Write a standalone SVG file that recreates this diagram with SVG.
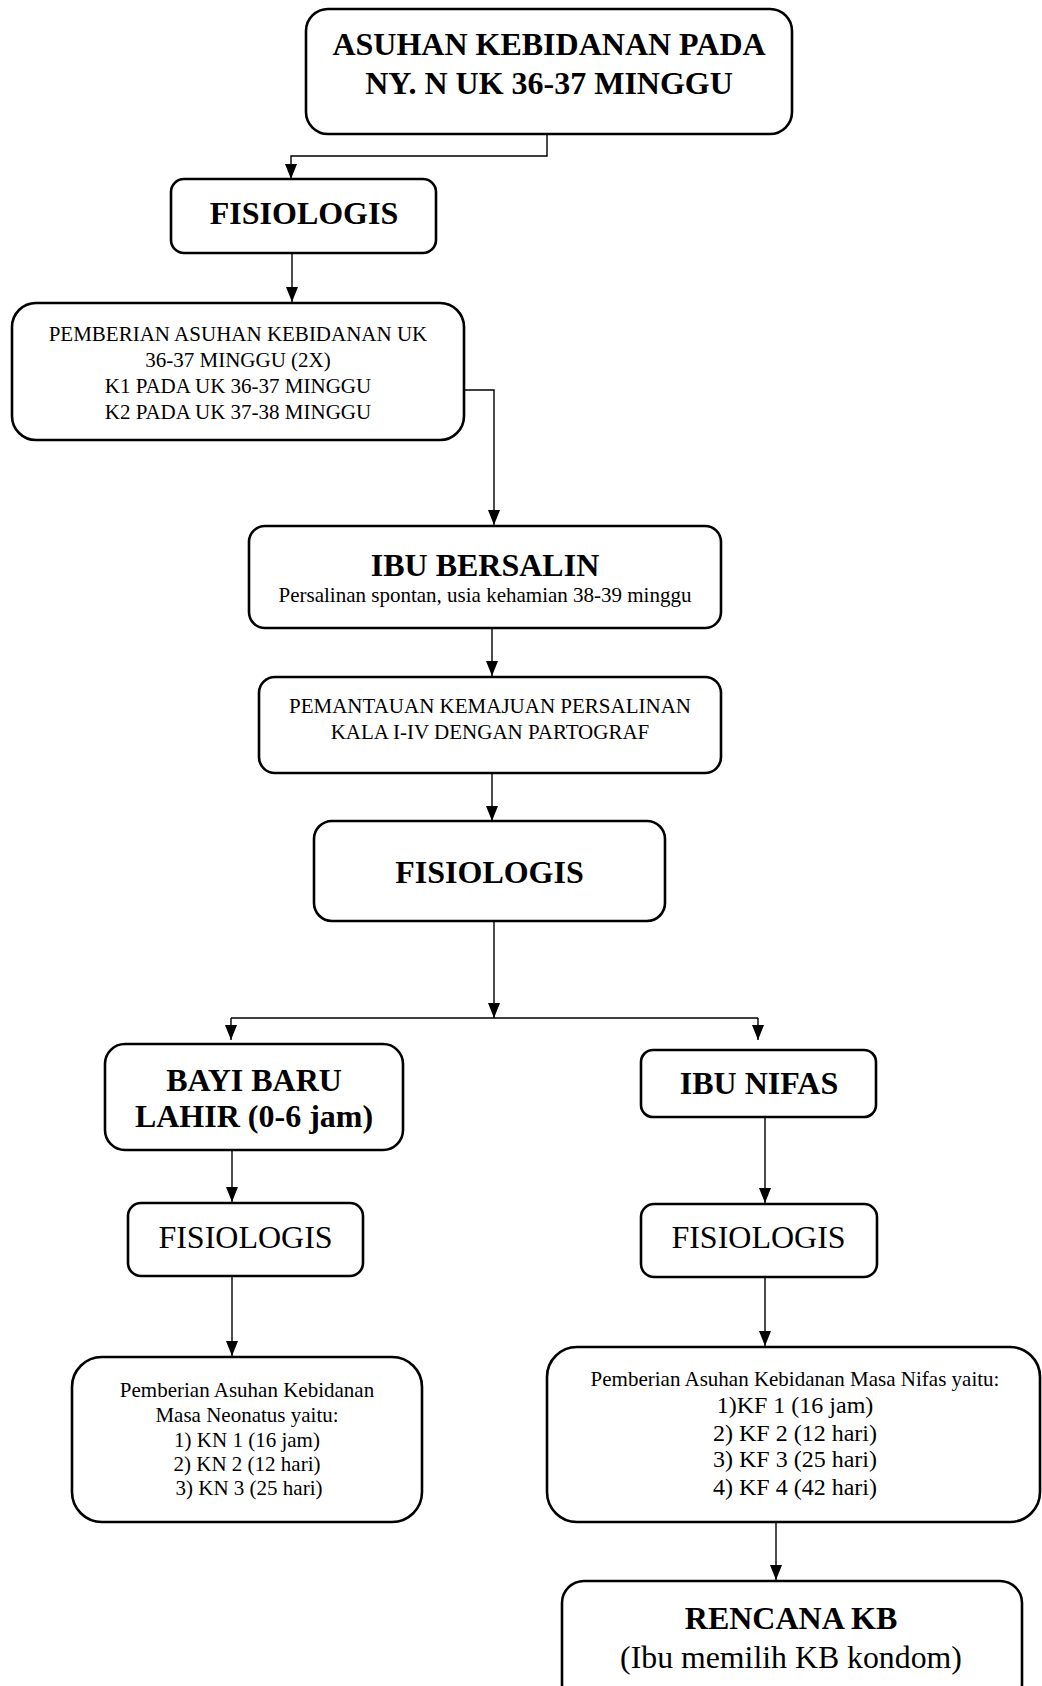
<svg xmlns="http://www.w3.org/2000/svg" width="1042" height="1686" viewBox="0 0 1042 1686">
<style>
.box{fill:#fff;stroke:#000;stroke-width:2.6}
.con{fill:none;stroke:#000;stroke-width:1.4}
text{font-family:"Liberation Serif","Times New Roman",serif;fill:#000;text-anchor:middle}
.b32{font-size:32px;font-weight:bold}
.r32{font-size:32px}
.r21{font-size:21px}
.r24{font-size:24px}
.r30{font-size:31.8px}
</style>
<defs>
<marker id="arr" markerUnits="userSpaceOnUse" markerWidth="16" markerHeight="12" refX="15" refY="6" orient="auto">
<path d="M0,0 L15,6 L0,12 z" fill="#000"/>
</marker>
</defs>
<rect width="1042" height="1686" fill="#fff"/>
<g id="connectors">
<path class="con" d="M547,134 V156 H291 V179" marker-end="url(#arr)"/>
<path class="con" d="M292,253 V302" marker-end="url(#arr)"/>
<path class="con" d="M464,390 H494 V525" marker-end="url(#arr)"/>
<path class="con" d="M492,628 V676" marker-end="url(#arr)"/>
<path class="con" d="M492,773 V821" marker-end="url(#arr)"/>
<path class="con" d="M494,921 V1018" marker-end="url(#arr)"/>
<path class="con" d="M231,1018 H758"/>
<path class="con" d="M231,1018 V1040" marker-end="url(#arr)"/>
<path class="con" d="M758,1018 V1040" marker-end="url(#arr)"/>
<path class="con" d="M232,1150 V1202" marker-end="url(#arr)"/>
<path class="con" d="M232,1276 V1356" marker-end="url(#arr)"/>
<path class="con" d="M765,1117 V1203" marker-end="url(#arr)"/>
<path class="con" d="M765,1277 V1346" marker-end="url(#arr)"/>
<path class="con" d="M776,1522 V1580" marker-end="url(#arr)"/>
</g>
<g id="n-asuhan">
<rect class="box" x="306" y="9" width="486" height="125" rx="22"/>
<text class="b32" x="549" y="55">ASUHAN KEBIDANAN PADA</text>
<text class="b32" x="549" y="94">NY. N UK 36-37 MINGGU</text>
</g>
<g id="n-fisiologis1">
<rect class="box" x="171" y="179" width="265" height="74" rx="13"/>
<text class="b32" x="304" y="224">FISIOLOGIS</text>
</g>
<g id="n-pemberian-uk">
<rect class="box" x="12" y="303" width="452" height="137" rx="24"/>
<text class="r21" x="238" y="341">PEMBERIAN ASUHAN KEBIDANAN UK</text>
<text class="r21" x="238" y="367">36-37 MINGGU (2X)</text>
<text class="r21" x="238" y="393">K1 PADA UK 36-37 MINGGU</text>
<text class="r21" x="238" y="419">K2 PADA UK 37-38 MINGGU</text>
</g>
<g id="n-ibu-bersalin">
<rect class="box" x="249" y="526" width="472" height="102" rx="16"/>
<text class="b32" x="485" y="576">IBU BERSALIN</text>
<text class="r21" x="485" y="602">Persalinan spontan, usia kehamian 38-39 minggu</text>
</g>
<g id="n-pemantauan">
<rect class="box" x="259" y="677" width="462" height="96" rx="16"/>
<text class="r21" x="490" y="713">PEMANTAUAN KEMAJUAN PERSALINAN</text>
<text class="r21" x="490" y="739">KALA I-IV DENGAN PARTOGRAF</text>
</g>
<g id="n-fisiologis2">
<rect class="box" x="314" y="821" width="351" height="100" rx="18"/>
<text class="b32" x="489.5" y="883">FISIOLOGIS</text>
</g>
<g id="n-bayi">
<rect class="box" x="105" y="1044" width="298" height="106" rx="20"/>
<text class="b32" x="254" y="1091">BAYI BARU</text>
<text class="b32" x="254" y="1127">LAHIR (0-6 jam)</text>
</g>
<g id="n-fisiologis-bayi">
<rect class="box" x="128" y="1203" width="235" height="73" rx="13"/>
<text class="r32" x="245.5" y="1248">FISIOLOGIS</text>
</g>
<g id="n-neonatus">
<rect class="box" x="72" y="1357" width="350" height="165" rx="30"/>
<text class="r21" x="247" y="1397">Pemberian Asuhan Kebidanan</text>
<text class="r21" x="247" y="1422">Masa Neonatus yaitu:</text>
<text class="r21" x="247" y="1447">1) KN 1 (16 jam)</text>
<text class="r21" x="247" y="1471">2) KN 2 (12 hari)</text>
<text class="r21" x="249" y="1495">3) KN 3 (25 hari)</text>
</g>
<g id="n-ibu-nifas">
<rect class="box" x="641" y="1050" width="235" height="67" rx="12"/>
<text class="b32" x="759" y="1094">IBU NIFAS</text>
</g>
<g id="n-fisiologis-nifas">
<rect class="box" x="641" y="1204" width="236" height="73" rx="13"/>
<text class="r32" x="758.5" y="1248">FISIOLOGIS</text>
</g>
<g id="n-nifas">
<rect class="box" x="547" y="1347" width="493" height="175" rx="30"/>
<text class="r21" x="795" y="1386">Pemberian Asuhan Kebidanan Masa Nifas yaitu:</text>
<text class="r24" x="795" y="1413">1)KF 1 (16 jam)</text>
<text class="r24" x="795" y="1441">2) KF 2 (12 hari)</text>
<text class="r24" x="795" y="1467">3) KF 3 (25 hari)</text>
<text class="r24" x="795" y="1495">4) KF 4 (42 hari)</text>
</g>
<g id="n-rencana-kb">
<rect class="box" x="562" y="1581" width="460" height="125" rx="22"/>
<text class="b32" x="791" y="1629">RENCANA KB</text>
<text class="r30" x="791" y="1668">(Ibu memilih KB kondom)</text>
</g>
</svg>
